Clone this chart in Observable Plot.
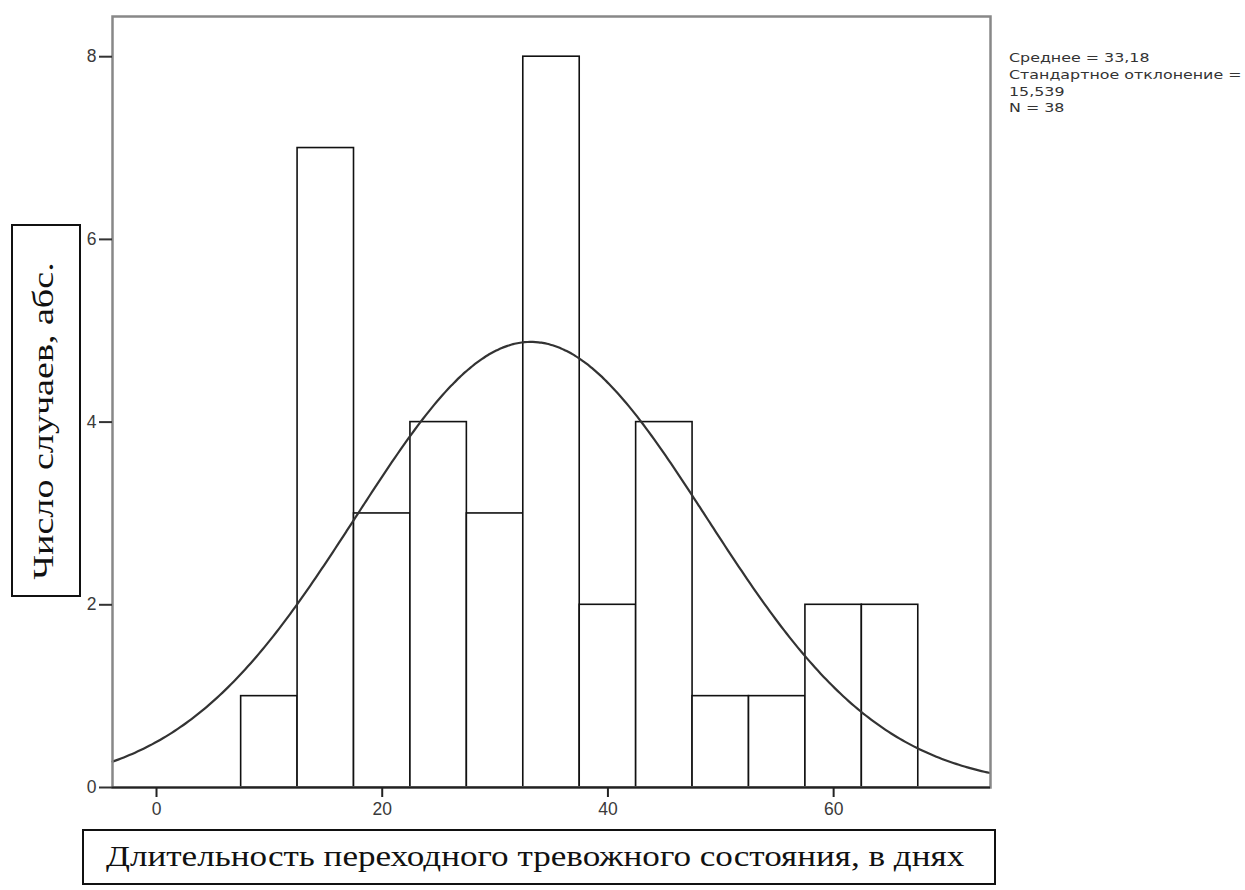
<!DOCTYPE html>
<html>
<head>
<meta charset="utf-8">
<script src="https://cdn.jsdelivr.net/npm/d3@7"></script>
<script src="https://cdn.jsdelivr.net/npm/@observablehq/plot@0.6"></script>
<style>
  html, body { margin: 0; padding: 0; background: #fff; }
  #wrap { position: relative; width: 1245px; height: 890px; overflow: hidden; }
  .box { position: absolute; border: 2px solid #111; background: #fff; box-sizing: border-box;
         font-family: "Liberation Serif", "Times New Roman", serif; font-size: 30px; color: #111; }
  #xlab { left: 82px; top: 829px; width: 914px; height: 56px; }
  #xlab span { position: absolute; left: 22px; top: 50%; transform-origin: left center;
               transform: translateY(-52%) scaleX(1.17); white-space: nowrap; }
  #ylab { left: 11px; top: 224px; width: 70px; height: 373px; }
  #ylab span { position: absolute; left: 50%; top: 50%;
               transform: translate(calc(-50% - 3px), calc(-50% + 10px)) rotate(-90deg) scaleX(1.27); white-space: nowrap; }
  #stats { position: absolute; left: 1009px; top: 50px; font-family: "DejaVu Sans", sans-serif; font-size: 13px;
           line-height: 16.8px; color: #333; white-space: pre; transform-origin: left top; transform: scaleX(1.22); }
</style>
</head>
<body>
<div id="wrap">
  <div id="chart"></div>
  <div id="ylab" class="box"><span>Число случаев, абс.</span></div>
  <div id="xlab" class="box"><span>Длительность переходного тревожного состояния, в днях</span></div>
  <div id="stats"></div>
</div>
<script>
// Histogram data (bins of width 5)
const binLower = [7.5, 12.5, 17.5, 22.5, 27.5, 32.5, 37.5, 42.5, 47.5, 52.5, 57.5, 62.5];
const binUpper = [12.5, 17.5, 22.5, 27.5, 32.5, 37.5, 42.5, 47.5, 52.5, 57.5, 62.5, 67.5];
const counts   = [1, 7, 3, 4, 3, 8, 2, 4, 1, 1, 2, 2];
const xTicks = [0, 20, 40, 60];
const yTicks = [0, 2, 4, 6, 8];
const statsLines = ["Среднее = 33,18", "Стандартное отклонение =", "15,539", "N = 38"];
const meanVal = 33.18, sdVal = 15.539, nVal = 38, binWidth = 5;

const bars = binLower.map((lo, i) => ({x1: lo, x2: binUpper[i], y: counts[i]}));

// Fitted normal curve scaled to counts (from the stated mean / SD / N)
const xDomain = [-3.9, 73.9];
const curve = d3.range(xDomain[0], xDomain[1] + 0.001, 0.25).map(x => ({
  x,
  y: nVal * binWidth / (sdVal * Math.sqrt(2 * Math.PI)) * Math.exp(-((x - meanVal) ** 2) / (2 * sdVal * sdVal))
}));

const plot = Plot.plot({
  width: 1245,
  height: 890,
  marginLeft: 112,
  marginRight: 255,
  marginTop: 16,
  marginBottom: 103,
  style: {fontFamily: "'Liberation Sans', Arial, sans-serif", fontSize: "17.5px", color: "#3a3a3a", background: "#fff"},
  x: {domain: xDomain, ticks: xTicks, label: null},
  y: {domain: [0, 8.44], ticks: yTicks, label: null},
  marks: [
    Plot.rectY(bars, {x1: "x1", x2: "x2", y: "y", fill: "#fff", stroke: "#111", strokeWidth: 1.6}),
    Plot.line(curve, {x: "x", y: "y", stroke: "#333", strokeWidth: 2.2, curve: "natural"}),
    Plot.frame({stroke: "#888", strokeWidth: 2.5}),
    Plot.ruleY([0], {stroke: "#222", strokeWidth: 2}),
    Plot.axisX({ticks: xTicks, tickSize: 10, tickPadding: 5, stroke: "#222", strokeWidth: 2, label: null}),
    Plot.axisY({ticks: yTicks, tickSize: 13, tickPadding: 3, stroke: "#333", strokeWidth: 2, label: null})
  ]
});
document.getElementById("chart").appendChild(plot);
document.getElementById("stats").textContent = statsLines.join("\n");
</script>
</body>
</html>
